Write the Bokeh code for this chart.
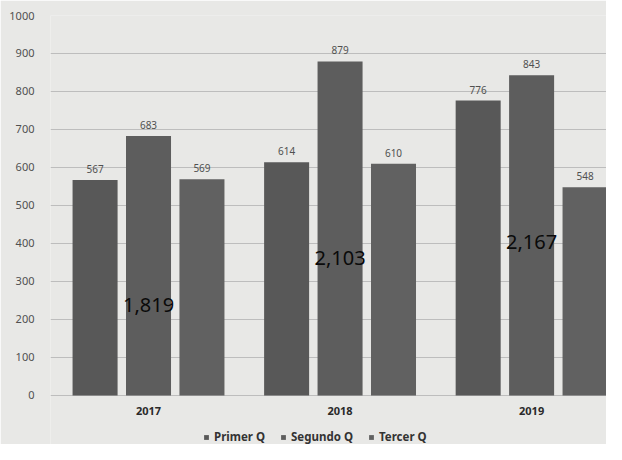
from bokeh.plotting import figure
from bokeh.models import ColumnDataSource, Range1d, FixedTicker, Legend, LegendItem, LabelSet
from bokeh.core.properties import value
from bokeh.embed import file_html
from bokeh.resources import INLINE

# ---- data ----
years = ["2017", "2018", "2019"]
series_names = ["Primer Q", "Segundo Q", "Tercer Q"]
primer_q = [567, 614, 776]
segundo_q = [683, 879, 843]
tercer_q = [569, 610, 548]
totals = [1819, 2103, 2167]
y_ticks = [0, 100, 200, 300, 400, 500, 600, 700, 800, 900, 1000]

# ---- style / layout ----
BG = "#e8e8e6"
BAR_COLORS = ["#585858", "#5d5d5d", "#616161"]
OFFSETS = [-0.279, 0.0, 0.279]
BAR_W = 0.235
TOTAL_LABEL_Y = [238, 362, 404]   # where the big total labels sit (chart units)
FONT = "Noto Sans"

centers = [i + 0.5 for i in range(len(years))]

# frame extends below zero so the category labels and legend sit inside it
p = figure(width=606, height=444, output_backend="svg", toolbar_location=None,
           x_axis_type=None,
           x_range=Range1d(-0.0117, 2.891), y_range=Range1d(-128.95, 1000),
           min_border_left=50, min_border_right=0, min_border_top=15, min_border_bottom=0)
p.background_fill_color = BG
p.border_fill_color = BG
p.outline_line_color = None

series_vals = [primer_q, segundo_q, tercer_q]
renderers = []
for k, vals in enumerate(series_vals):
    src = ColumnDataSource(dict(
        x=[c + OFFSETS[k] for c in centers],
        top=vals,
        lbl=[str(v) for v in vals],
    ))
    r = p.vbar(x="x", top="top", bottom=0, width=BAR_W, source=src,
               fill_color=BAR_COLORS[k], line_color=None)
    renderers.append(r)
    p.add_layout(LabelSet(x="x", y="top", text="lbl", source=src,
                          text_align="center", text_baseline="bottom", y_offset=7,
                          text_font=value(FONT), text_font_size="10px",
                          text_color="#505050"))

# big totals
tot_src = ColumnDataSource(dict(x=centers, y=TOTAL_LABEL_Y,
                                t=[f"{t:,}" for t in totals]))
p.text(x="x", y="y", text="t", source=tot_src, text_align="center",
       text_baseline="middle", text_font=value(FONT), text_font_size="20px",
       text_color="#0a0a0a")

# category (year) labels under the zero line
cat_src = ColumnDataSource(dict(x=centers, y=[0] * len(years), t=years))
p.text(x="x", y="y", text="t", source=cat_src, y_offset=16,
       text_align="center", text_baseline="middle", text_font=value(FONT),
       text_font_size="11px", text_font_style="bold", text_color="#2a2a2a")

# y axis
p.yaxis.ticker = FixedTicker(ticks=y_ticks)
p.yaxis.axis_line_color = None
p.yaxis.major_tick_line_color = None
p.yaxis.minor_tick_line_color = None
p.yaxis.major_label_text_font = FONT
p.yaxis.major_label_text_font_size = "11px"
p.yaxis.major_label_text_color = "#505050"
p.yaxis.major_label_standoff = 10

p.ygrid.grid_line_color = "#bdbdbd"
p.ygrid.grid_line_width = 1

legend = Legend(items=[LegendItem(label=n, renderers=[r]) for n, r in zip(series_names, renderers)],
                orientation="horizontal", location=(153, 0),
                label_text_font=FONT, label_text_font_size="11.5px",
                label_text_font_style="bold", label_text_color="#333333",
                glyph_width=6, glyph_height=6, label_standoff=5, spacing=15,
                padding=1, margin=0, border_line_color=None,
                background_fill_alpha=0.0)
p.add_layout(legend)

open("out.html", "w").write(file_html(p, INLINE))
